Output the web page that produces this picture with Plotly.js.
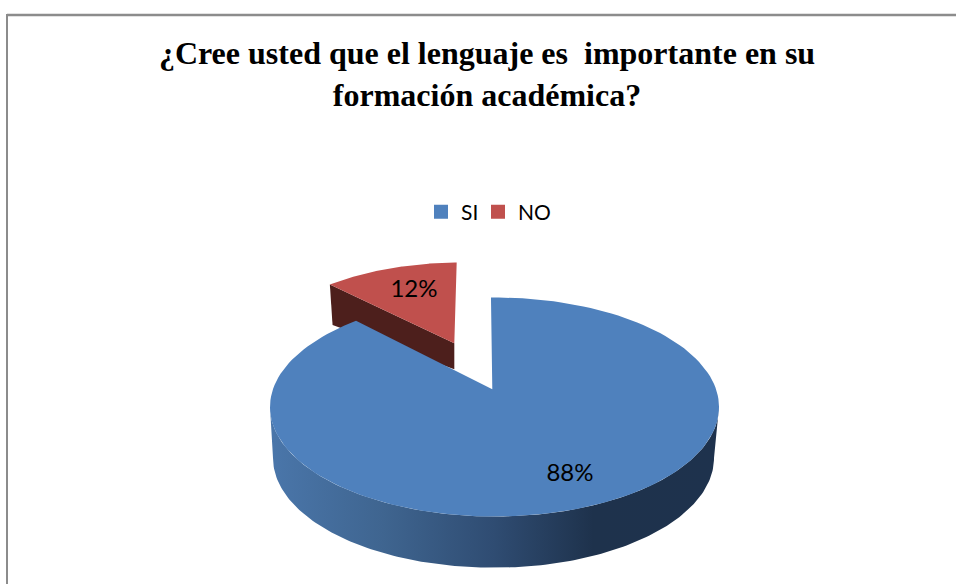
<!DOCTYPE html>
<html>
<head>
<meta charset="utf-8">
<script src="https://cdn.plot.ly/plotly-3.0.1.min.js"></script>
<style>html,body{margin:0;padding:0;background:#fff;overflow:hidden}</style>
</head>
<body>
<div id="chart" style="width:956px;height:584px"></div>
<script>
const categories = ['SI', 'NO'];
const percentages = [88, 12];
const chartTitle = '¿Cree usted que el lenguaje es\u00a0 importante en su<br>formación académica?';

const sliceColors = ['#4f81bd', '#c0504d'];
const redWall = '#4d1f1c';

// Projection of the tilted pie onto the pixel-scaled axes
const topFace = {cx: 494.5, cy: 407, rx: 224.5, ry: 109.5};
const baseFace = {cx: 493.5, cy: 458, rx: 220.5, ry: 109.7};
const blueApex = [492.3, 389.3];
const redFace = {cx: 460, cy: 365.5, rx: 211, ry: 103};
const redApex = [454.3, 343.3];
const startAngle = -0.9;
const perspective = 1.019;

const total = percentages.reduce((a, b) => a + b, 0);
const endAngle = startAngle + 360 * (percentages[0] / total) * perspective;

function rim(face, from, to) {
  const xs = [], ys = [], n = 160;
  for (let i = 0; i <= n; i++) {
    const t = (from + (to - from) * i / n) * Math.PI / 180;
    xs.push(face.cx + face.rx * Math.sin(t));
    ys.push(face.cy - face.ry * Math.cos(t));
  }
  return [xs, ys];
}
function area(name, xs, ys, extra) {
  return Object.assign({type: 'scatter', mode: 'lines', x: xs, y: ys, fill: 'toself',
    line: {width: 0}, hoverinfo: 'skip', showlegend: false, name: name}, extra);
}

// NO slice
const [rxs, rys] = rim(redFace, endAngle, startAngle + 360);
const redTop = area('NO', [redApex[0], ...rxs, redApex[0]], [redApex[1], ...rys, redApex[1]], {fillcolor: sliceColors[1]});
const redInner = area('NO wall',
  [rxs[0], redApex[0], redApex[0], rxs[0] + 2.7, rxs[0]],
  [rys[0], redApex[1], redApex[1] + 26, rys[0] + 40.7, rys[0]],
  {fillcolor: redWall});

// SI slice
const [bxs, bys] = rim(topFace, startAngle, endAngle);
const blueTop = area('SI', [blueApex[0], ...bxs, blueApex[0]], [blueApex[1], ...bys, blueApex[1]], {fillcolor: sliceColors[0]});
const [t2x, t2y] = rim(topFace, 90, 270);
const [b2x, b2y] = rim(baseFace, 270, 90);
const blueSide = area('SI side', [...t2x, ...b2x, t2x[0]], [...t2y, ...b2y, t2y[0]], {
  fillgradient: {type: 'horizontal', colorscale: [
    [0, '#4a76aa'], [0.25, '#3f6590'], [0.5, '#2f4c72'], [0.72, '#1e324c'], [1, '#1e324d']
  ]}
});

// Legend entries
const legendWidths = [12, 44];
const legendItems = categories.map((c, i) => ({
  type: 'scatter', mode: 'markers', x: [null], y: [null], name: c, legendwidth: legendWidths[i],
  marker: {symbol: 'square', size: 14, color: sliceColors[i]}, hoverinfo: 'skip'
}));

// Slice labels
const labels = {
  type: 'scatter', mode: 'text', x: [570, 414], y: [475, 291],
  text: percentages.map(p => p + '%'), textposition: 'middle center',
  textfont: {family: 'Lato, sans-serif', size: 24, color: '#000'},
  hoverinfo: 'skip', showlegend: false
};

const layout = {
  width: 956, height: 584, margin: {l: 0, r: 0, t: 0, b: 0},
  paper_bgcolor: '#fff', plot_bgcolor: '#fff',
  xaxis: {range: [0, 956], visible: false, fixedrange: true},
  yaxis: {range: [584, 0], visible: false, fixedrange: true},
  title: {
    text: chartTitle, x: 487 / 956, xanchor: 'center', y: 1 - 64 / 584, yanchor: 'top',
    font: {family: '"Liberation Serif", serif', size: 32, color: '#000', weight: 700}
  },
  legend: {
    orientation: 'h', x: 421 / 956, xanchor: 'left', y: 1 - 212 / 584, yanchor: 'middle',
    entrywidth: 12, entrywidthmode: 'pixels',
    font: {family: 'Lato, sans-serif', size: 21, color: '#000'},
    traceorder: 'normal', itemclick: false, itemdoubleclick: false
  },
  shapes: [
    {type: 'line', xref: 'paper', yref: 'paper', x0: 7 / 956, x1: 1, y0: 1 - 15 / 584, y1: 1 - 15 / 584, line: {color: '#8c8c8c', width: 2.5}},
    {type: 'line', xref: 'paper', yref: 'paper', x0: 7 / 956, x1: 7 / 956, y0: 0, y1: 1 - 14 / 584, line: {color: '#8c8c8c', width: 2}}
  ]
};

Plotly.newPlot('chart', [redInner, redTop, blueSide, blueTop, ...legendItems, labels], layout, {displayModeBar: false, staticPlot: true});
</script>
</body>
</html>
